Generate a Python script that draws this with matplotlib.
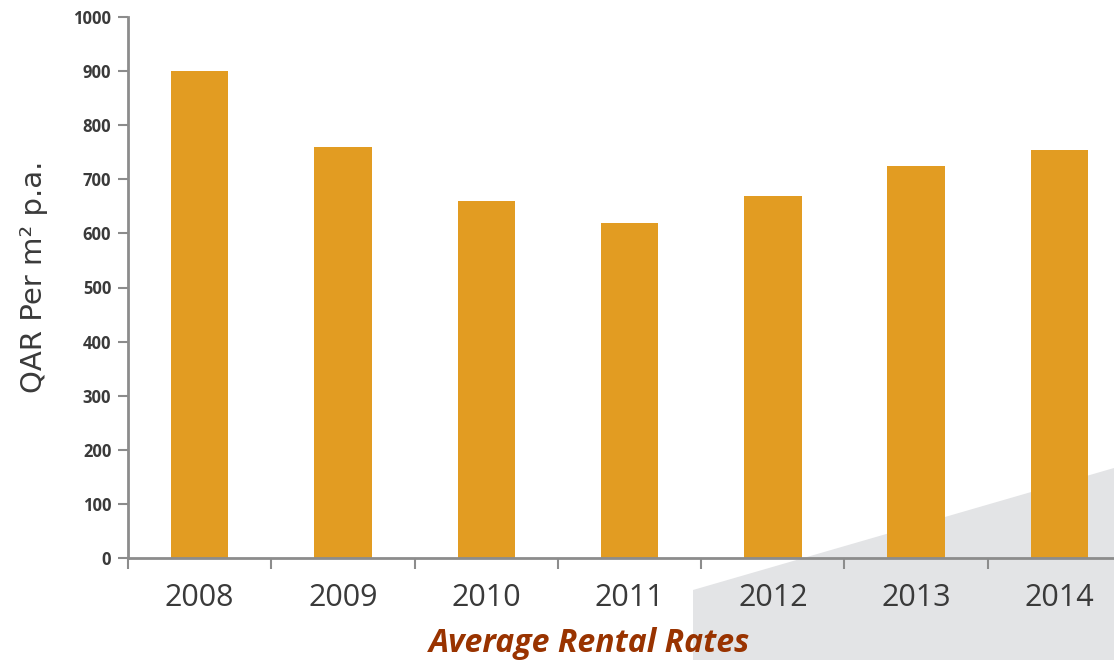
import numpy as np
import matplotlib.pyplot as plt
from matplotlib.patches import Polygon

# data
years = ['2008', '2009', '2010', '2011', '2012', '2013', '2014']
rates = [900, 760, 660, 620, 670, 725, 755]
yticks = [0, 100, 200, 300, 400, 500, 600, 700, 800, 900, 1000]

BAR_COLOR = '#E29C22'
AXIS_COLOR = '#8C8C8C'
TEXT_COLOR = '#3A3A3A'

plt.rcParams['font.family'] = ['Open Sans', 'DejaVu Sans']

fig = plt.figure(figsize=(11.14, 6.6), dpi=100)

# grey decorative wedge in the lower right corner (behind the axes)
W, H = 1114, 660
wedge = Polygon([(693 / W, 1 - 590 / H), (1.0, 1 - 468 / H), (1.0, 0.0), (693 / W, 0.0)],
                closed=True, transform=fig.transFigure, facecolor='#E3E4E6',
                edgecolor='none', zorder=-5)
fig.patches.append(wedge)

# axes: left at 128px, y=0 at 558px, y=1000 at 17px, 143.3px per category
left = 128 / W
bottom = 1 - 558 / H
height = (558 - 17) / H
width = 7 * 143.3 / W
ax = fig.add_axes([left, bottom, width, height])
ax.set_zorder(1)
ax.patch.set_alpha(0)

x = np.arange(len(years))
ax.bar(x, rates, width=0.4, color=BAR_COLOR, zorder=2)

ax.set_xlim(-0.5, len(years) - 0.5)
ax.set_ylim(0, 1000)
ax.set_yticks(yticks)
ax.set_yticklabels([str(v) for v in yticks], fontsize=12, fontweight='bold', color=TEXT_COLOR)

ax.set_xticks(x)
ax.set_xticklabels(years, fontsize=22, color=TEXT_COLOR)
ax.tick_params(axis='x', length=0, pad=18)
ax.set_xticks(np.arange(-0.5, len(years), 1), minor=True)
ax.tick_params(axis='x', which='minor', length=8, width=1.5, color=AXIS_COLOR)
ax.tick_params(axis='y', length=7, width=1.5, color=AXIS_COLOR, pad=5)

for s in ['top', 'right']:
    ax.spines[s].set_visible(False)
for s in ['left', 'bottom']:
    ax.spines[s].set_color(AXIS_COLOR)
    ax.spines[s].set_linewidth(2)

ax.set_ylabel('QAR Per m² p.a.', fontsize=21, color=TEXT_COLOR,
              family=['DejaVu Sans'])
ax.yaxis.set_label_coords(-0.08, 0.52)

fig.text(590 / W, 1 - 643 / H, 'Average Rental Rates', ha='center', va='center',
         fontsize=23, fontstyle='italic', fontweight='bold', color='#993300')

fig.savefig('out.png', dpi=100)
